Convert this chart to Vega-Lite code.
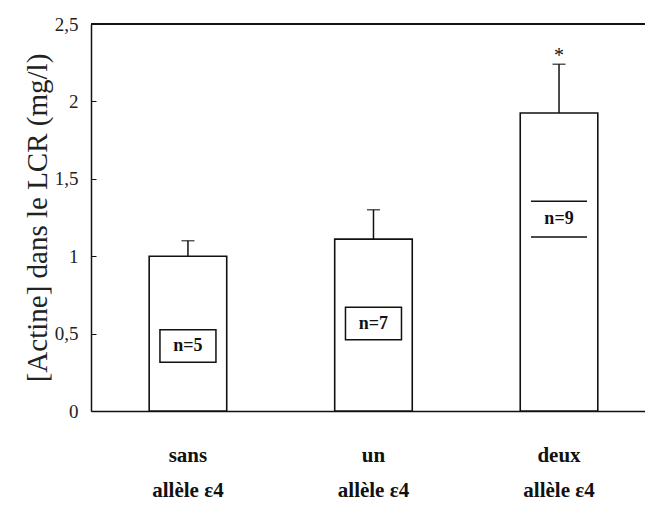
{
  "$schema": "https://vega.github.io/schema/vega-lite/v6.json",
  "width": 554,
  "height": 387,
  "autosize": "none",
  "padding": {"left": 91, "top": 24, "right": 0, "bottom": 97},
  "background": "white",
  "config": {
    "view": {"stroke": null},
    "font": "Liberation Serif",
    "axis": {"grid": false, "domainColor": "#111", "domainWidth": 1.5, "tickColor": "#111"}
  },
  "data": {
    "values": [
      {"groupe": "sans allèle ε4", "actine": 1.0, "haut": 1.10, "n": "n=5", "posn": 0.42, "sig": ""},
      {"groupe": "un allèle ε4", "actine": 1.11, "haut": 1.30, "n": "n=7", "posn": 0.565, "sig": ""},
      {"groupe": "deux allèle ε4", "actine": 1.925, "haut": 2.24, "n": "n=9", "posn": 1.24, "sig": "*"}
    ]
  },
  "encoding": {
    "x": {
      "field": "groupe", "type": "nominal", "sort": null,
      "scale": {"paddingInner": 0.582, "paddingOuter": 0.284, "align": 0.552},
      "axis": {
        "title": null, "ticks": false, "labelAngle": 0,
        "labelExpr": "[split(datum.label, ' ')[0], 'allèle ε4']",
        "labelFont": "Liberation Serif", "labelFontWeight": "bold", "labelFontSize": 21,
        "labelColor": "#111", "labelPadding": 33, "labelLineHeight": 35
      }
    }
  },
  "layer": [
    {
      "mark": {"type": "rule", "color": "#111", "strokeWidth": 1.5},
      "encoding": {"x": null, "y": {"datum": 2.5, "type": "quantitative"}}
    },
    {
      "mark": {"type": "bar", "fill": "white", "stroke": "#111", "strokeWidth": 1.6},
      "encoding": {
        "y": {
          "field": "actine", "type": "quantitative",
          "scale": {"domain": [0, 2.5], "nice": false},
          "axis": {
            "values": [0, 0.5, 1, 1.5, 2, 2.5],
            "labelExpr": "replace(format(datum.value, '~g'), '.', ',')",
            "tickSize": -5, "labelPadding": 18,
            "labelFontSize": 19, "labelColor": "#222",
            "title": "[Actine] dans le LCR (mg/l)",
            "titleFont": "Liberation Serif", "titleFontWeight": "normal",
            "titleFontSize": 29, "titleColor": "#222", "titlePadding": 2
          }
        }
      }
    },
    {
      "mark": {"type": "rule", "color": "#111", "strokeWidth": 1.5},
      "encoding": {"y": {"field": "actine", "type": "quantitative"}, "y2": {"field": "haut"}}
    },
    {
      "mark": {"type": "tick", "color": "#111", "thickness": 1.5, "size": 13},
      "encoding": {"y": {"field": "haut", "type": "quantitative"}}
    },
    {
      "mark": {"type": "text", "fontSize": 20, "color": "#111", "dy": -8},
      "encoding": {"y": {"field": "haut", "type": "quantitative"}, "text": {"field": "sig"}}
    },
    {
      "transform": [{"filter": "datum.n != 'n=9'"}],
      "mark": {"type": "point", "shape": "M-1,-0.58L1,-0.58L1,0.58L-1,0.58Z", "size": 3136, "filled": false, "stroke": "#111", "strokeWidth": 1.5, "opacity": 1},
      "encoding": {"y": {"field": "posn", "type": "quantitative"}}
    },
    {
      "transform": [{"filter": "datum.n == 'n=9'"}],
      "mark": {"type": "point", "shape": "M-1,-0.64L1,-0.64M-1,0.64L1,0.64", "size": 3136, "filled": false, "stroke": "#111", "strokeWidth": 1.5, "opacity": 1},
      "encoding": {"y": {"field": "posn", "type": "quantitative"}}
    },
    {
      "mark": {"type": "text", "fontSize": 18, "fontWeight": "bold", "color": "#111", "baseline": "middle"},
      "encoding": {"y": {"field": "posn", "type": "quantitative"}, "text": {"field": "n"}}
    }
  ]
}
